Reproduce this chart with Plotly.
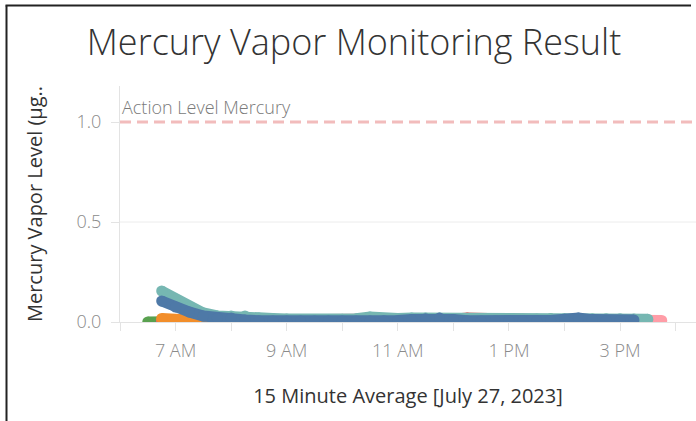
import plotly.graph_objects as go
import pandas as pd

# ---------------- data ----------------
DAY = "2023-07-27"
series_names = ["Green", "Pink", "Red", "Orange", "Teal", "Blue"]
series_colors = ["#59a14f", "#ff9da7", "#e15759", "#f28e2b", "#76b7b2", "#4e79a7"]
series_start = ["06:30", "06:45", "06:45", "06:45", "06:45", "06:45"]

green_vals = [0.0, 0.003, 0.004, 0.004, 0.005, 0.005, 0.005, 0.005, 0.004, 0.004,
              0.004, 0.004, 0.004, 0.004, 0.005, 0.005, 0.005, 0.005, 0.005, 0.005,
              0.005, 0.005, 0.005, 0.005, 0.005, 0.005, 0.006, 0.008, 0.012, 0.016,
              0.012, 0.008, 0.006, 0.005, 0.005, 0.005, 0.004]
pink_vals = [0.004, 0.004, 0.004, 0.005, 0.005, 0.005, 0.006, 0.006, 0.006, 0.006,
             0.006, 0.006, 0.007, 0.008, 0.009, 0.010, 0.012, 0.016, 0.018, 0.018,
             0.012, 0.008, 0.008, 0.008, 0.008, 0.008, 0.008, 0.008, 0.008, 0.008,
             0.009, 0.009, 0.010, 0.010, 0.010, 0.010, 0.008]
red_vals = [0.004, 0.004, 0.004, 0.005, 0.005, 0.006, 0.008, 0.010, 0.010, 0.008,
            0.006, 0.006, 0.006, 0.006, 0.006, 0.006, 0.006, 0.007, 0.008, 0.009,
            0.010, 0.014, 0.020, 0.016, 0.010, 0.008, 0.009, 0.011, 0.010, 0.010,
            0.012, 0.010, 0.008, 0.008]
orange_vals = [0.018, 0.010, 0.007, 0.006, 0.006, 0.008, 0.010, 0.010, 0.010, 0.010,
               0.010, 0.010, 0.010, 0.010, 0.010, 0.010, 0.013, 0.018, 0.018, 0.014,
               0.012, 0.012, 0.010, 0.010, 0.010, 0.010, 0.009, 0.009, 0.008, 0.008,
               0.008, 0.008, 0.008, 0.008, 0.008]
teal_vals = [0.155, 0.115, 0.075, 0.045, 0.030, 0.030, 0.030, 0.020, 0.018, 0.015,
             0.013, 0.013, 0.013, 0.014, 0.016, 0.025, 0.016, 0.018, 0.020, 0.020,
             0.020, 0.018, 0.015, 0.015, 0.014, 0.014, 0.014, 0.015, 0.016, 0.016,
             0.016, 0.016, 0.016, 0.016, 0.015, 0.014]
blue_vals = [0.105, 0.075, 0.050, 0.030, 0.020, 0.020, 0.010, 0.006, 0.005, 0.005,
             0.005, 0.005, 0.005, 0.005, 0.005, 0.005, 0.006, 0.008, 0.012, 0.016,
             0.020, 0.012, 0.006, 0.005, 0.005, 0.005, 0.005, 0.005, 0.008, 0.014,
             0.020, 0.012, 0.008, 0.008, 0.010]
series_values = [green_vals, pink_vals, red_vals, orange_vals, teal_vals, blue_vals]

tick_hours = ["06:00", "07:00", "08:00", "09:00", "10:00", "11:00",
              "12:00", "13:00", "14:00", "15:00", "16:00"]
tick_labels = ["", "7 AM", "", "9 AM", "", "11 AM", "", "1 PM", "", "3 PM", ""]
y_ticks = [0.0, 0.5, 1.0]
y_tick_labels = ["0.0", "0.5", "1.0"]
grid_levels = [0.5]
action_level = 1.0
action_label = "Action Level Mercury"

# ---------------- figure ----------------
FONT = "Open Sans"
fig = go.Figure()

for name, color, start, vals in zip(series_names, series_colors, series_start, series_values):
    xs = pd.date_range(f"{DAY} {start}", periods=len(vals), freq="15min")
    fig.add_trace(go.Scatter(
        x=xs, y=vals, name=name, mode="lines+markers",
        line=dict(color=color, width=11),
        marker=dict(color=color, size=11, line=dict(width=0)),
        showlegend=False, hoverinfo="x+y+name",
    ))

x_start = pd.Timestamp(f"{DAY} 06:00")
x_end = pd.Timestamp(f"{DAY} 16:22")

# horizontal grid
for g in grid_levels:
    fig.add_shape(type="line", xref="paper", x0=0, x1=1, yref="y", y0=g, y1=g,
                  line=dict(color="#ececec", width=1), layer="below")

# action level dashed line
fig.add_shape(type="line", xref="paper", x0=0, x1=1, yref="y",
              y0=action_level, y1=action_level,
              line=dict(color="#f2bcbc", width=3, dash="11px,6px"), layer="below")
fig.add_annotation(text=action_label, xref="paper", x=0.0, yref="y", y=action_level,
                   xanchor="left", yanchor="bottom", yshift=1, showarrow=False,
                   font=dict(family=FONT, size=18, color="#7a7a7a", weight=300))

# dashboard border (top and left)
W, H = 696, 421
L, R, T, B = 120, 0, 86, 99
pw, ph = W - L - R, H - T - B
def px2x(p):
    return (p - L) / pw
def py2y(p):
    return (H - B - p) / ph
fig.add_shape(type="line", xref="paper", yref="paper",
              x0=px2x(6.5), x1=px2x(6.5), y0=py2y(5.5), y1=py2y(H + 2),
              line=dict(color="#222222", width=2))
fig.add_shape(type="line", xref="paper", yref="paper",
              x0=px2x(5.5), x1=px2x(691), y0=py2y(5.5), y1=py2y(5.5),
              line=dict(color="#222222", width=2))

fig.update_layout(
    width=W, height=H,
    margin=dict(l=L, r=R, t=T, b=B),
    paper_bgcolor="white", plot_bgcolor="white",
    font=dict(family=FONT),
    title=dict(text="Mercury Vapor Monitoring Result", xref="container", x=354 / W,
               xanchor="center", yref="container", y=1 - 42 / H, yanchor="middle",
               font=dict(family=FONT, size=36, color="#333333", weight=300)),
    xaxis=dict(
        type="date", range=[x_start, x_end],
        tickmode="array",
        tickvals=[pd.Timestamp(f"{DAY} {h}") for h in tick_hours],
        ticktext=tick_labels,
        ticks="outside", ticklen=8, tickcolor="#e3e3e3", tickwidth=1,
        showgrid=False, showline=True, linecolor="#e3e3e3", linewidth=1,
        zeroline=False, ticklabelstandoff=4,
        tickfont=dict(family=FONT, size=18, color="#8a8a8a", weight=300),
        title=dict(text="15 Minute Average [July 27, 2023]", standoff=28,
                   font=dict(family=FONT, size=20, color="#333333")),
    ),
    yaxis=dict(
        range=[0, 1.18],
        tickmode="array", tickvals=y_ticks, ticktext=y_tick_labels,
        ticks="outside", ticklen=8, tickcolor="#e3e3e3",
        showgrid=False,
        showline=True, linecolor="#e3e3e3", linewidth=1,
        zeroline=False, ticklabelstandoff=6,
        tickfont=dict(family=FONT, size=18, color="#8a8a8a", weight=300),
        title=dict(text="Mercury Vapor Level (µg..", standoff=28,
                   font=dict(family=FONT, size=20, color="#333333")),
    ),
)

fig.write_html("out.html", config={"displayModeBar": False},
               post_script="document.body.style.margin='0';document.body.style.overflow='hidden';")
